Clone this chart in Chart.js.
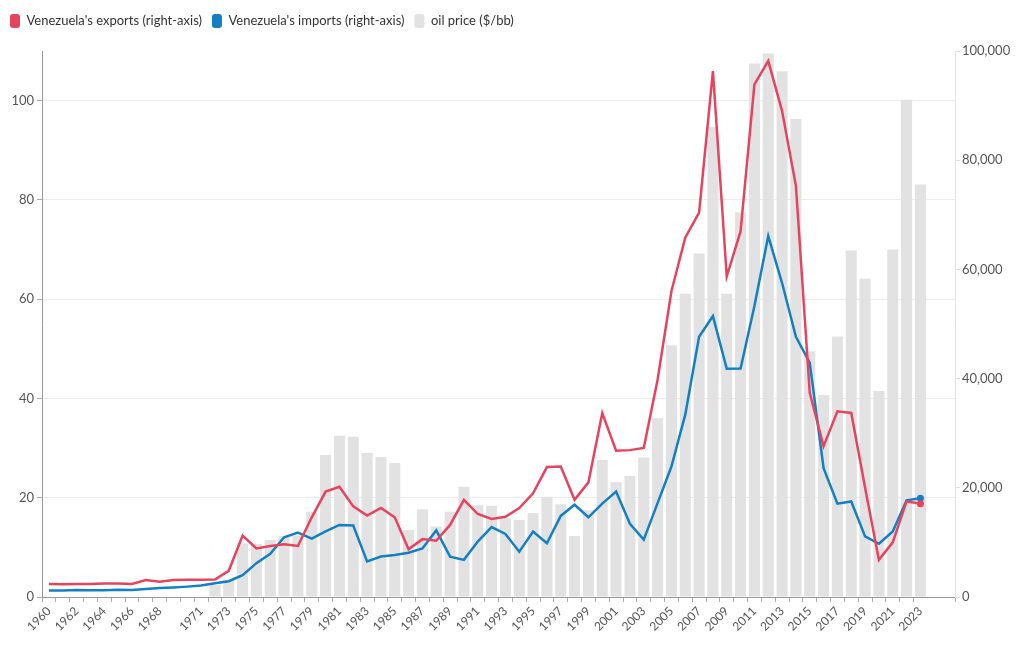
<!DOCTYPE html>
<html>
<head>
<meta charset="utf-8">
<script src="https://cdn.jsdelivr.net/npm/chart.js@4"></script>
<style>
  body { margin: 0; background: #fff; }
</style>
</head>
<body>
<canvas id="chart" width="1020" height="650"></canvas>
<script>
var years = [
  '1960', '1961', '1962', '1963', '1964', '1965', '1966', '1967', '1968', '1969',
  '1970', '1971', '1972', '1973', '1974', '1975', '1976', '1977', '1978', '1979',
  '1980', '1981', '1982', '1983', '1984', '1985', '1986', '1987', '1988', '1989',
  '1990', '1991', '1992', '1993', '1994', '1995', '1996', '1997', '1998', '1999',
  '2000', '2001', '2002', '2003', '2004', '2005', '2006', '2007', '2008', '2009',
  '2010', '2011', '2012', '2013', '2014', '2015', '2016', '2017', '2018', '2019',
  '2020', '2021', '2022', '2023'
];

// exports, US$ million (right axis)
var exportsValues = [
  2400, 2350, 2400, 2400, 2450, 2450, 2400, 3100, 2800, 3100,
  3150, 3150, 3200, 4800, 11250, 8900, 9350, 9650, 9350, 14600,
  19300, 20200, 16600, 14900, 16300, 14600, 8750, 10600, 10300, 13200,
  17800, 15200, 14300, 14700, 16300, 19000, 23800, 23900, 17800, 21000,
  33700, 26800, 26900, 27300, 39800, 56000, 65800, 70400, 96300, 58700,
  67000, 93900, 98200, 89000, 75300, 37400, 27600, 34000, 33700, 20000,
  6800, 10000, 17500, 17100
];

// imports, US$ million (right axis)
var importsValues = [
  1200, 1200, 1300, 1250, 1250, 1350, 1300, 1450, 1650, 1750,
  1900, 2100, 2500, 2900, 4000, 6200, 7900, 10950, 11800, 10700,
  12000, 13200, 13100, 6500, 7400, 7700, 8100, 8900, 12200, 7400,
  6800, 10150, 12800, 11550, 8300, 12000, 9850, 14850, 16900, 14600,
  17100, 19300, 13400, 10500, 17200, 23900, 33400, 47650, 51450, 41800,
  41850, 53300, 66100, 57500, 47650, 42900, 23600, 17100, 17500, 11100,
  9750, 12000, 17700, 18100
];

// oil price, $/bbl (left axis)
var oilPrice = [
  null, null, null, null, null, null, null, null, null, null,
  null, null, 2.4, 3.5, 10.8, 10.7, 11.5, 12.3, 12.4, 17.2,
  28.6, 32.5, 32.3, 29.0, 28.2, 27.0, 13.5, 17.7, 14.2, 17.2,
  22.2, 18.5, 18.4, 15.9, 15.5, 16.9, 20.2, 18.7, 12.3, 17.5,
  27.6, 23.1, 24.4, 28.1, 36.0, 50.7, 61.1, 69.2, 94.7, 61.1,
  77.5, 107.5, 109.5, 105.9, 96.3, 49.5, 40.7, 52.5, 69.8, 64.1,
  41.5, 70.0, 100.2, 83.1
];

// two empty slots keep the gap between 2023 and the right axis
var labels = years.concat(['', '']);
var lastIndex = years.length - 1;

var red = '#e8435e';
var blue = '#1280c3';
var grey = '#e2e2e2';

function lastDot(ctx) {
  return ctx.dataIndex === lastIndex ? 3.5 : 0;
}

function showYear(label) {
  var y = parseInt(label, 10);
  if (isNaN(y)) return false;
  if (y <= 1968) return y % 2 === 0;
  if (y >= 1971) return y % 2 === 1;
  return false;
}

// extra space under the legend
var legendMargin = {
  id: 'legendMargin',
  beforeInit: function(chart) {
    var fit = chart.legend.fit;
    chart.legend.fit = function() {
      fit.bind(chart.legend)();
      this.height += 13;
    };
  }
};

Chart.defaults.font.family = 'Lato, "Noto Sans", sans-serif';
Chart.defaults.font.size = 13;
Chart.defaults.color = '#555';

var ctx = document.getElementById('chart').getContext('2d');
var myChart = new Chart(ctx, {
  data: {
    labels: labels,
    datasets: [{
      type: 'line',
      label: "Venezuela's exports (right-axis)",
      data: exportsValues,
      yAxisID: 'y1',
      borderColor: red,
      backgroundColor: red,
      borderWidth: 2.5,
      tension: 0,
      pointRadius: lastDot,
      pointHoverRadius: lastDot,
      pointBorderWidth: 0
    }, {
      type: 'line',
      label: "Venezuela's imports (right-axis)",
      data: importsValues,
      yAxisID: 'y1',
      borderColor: blue,
      backgroundColor: blue,
      borderWidth: 2.5,
      tension: 0,
      pointRadius: lastDot,
      pointHoverRadius: lastDot,
      pointBorderWidth: 0
    }, {
      type: 'bar',
      label: 'oil price ($/bb)',
      data: oilPrice,
      yAxisID: 'y',
      backgroundColor: grey,
      borderWidth: 0,
      barPercentage: 0.8,
      categoryPercentage: 1
    }]
  },
  plugins: [legendMargin],
  options: {
    responsive: false,
    animation: false,
    layout: { padding: { top: 4, left: 0, right: 0, bottom: 0 } },
    plugins: {
      legend: {
        position: 'top',
        align: 'start',
        labels: {
          boxWidth: 10,
          boxHeight: 14,
          useBorderRadius: true,
          borderRadius: 3,
          padding: 10,
          color: '#333',
          font: { size: 13 },
          generateLabels: function(chart) {
            var items = Chart.defaults.plugins.legend.labels.generateLabels(chart);
            items.forEach(function(it) { it.lineWidth = 0; });
            return items;
          }
        }
      },
      tooltip: { enabled: false }
    },
    scales: {
      x: {
        type: 'category',
        offset: true,
        grid: {
          drawOnChartArea: false,
          tickLength: 5,
          tickColor: function(c) {
            return c.index > lastIndex ? 'rgba(0,0,0,0)' : '#aaa';
          }
        },
        border: { color: '#999' },
        ticks: {
          autoSkip: false,
          maxRotation: 45,
          minRotation: 45,
          padding: 2,
          font: { size: 12 },
          callback: function(value) {
            var l = this.getLabelForValue(value);
            return showYear(l) ? l : '';
          }
        },
        afterFit: function(scale) { scale.height = 53; }
      },
      y: {
        position: 'left',
        min: 0,
        max: 110,
        ticks: { stepSize: 20, padding: 3 },
        grid: { color: '#ececec', tickLength: 5, tickColor: '#aaa' },
        border: { color: '#999' },
        afterBuildTicks: function(scale) {
          scale.ticks = scale.ticks.filter(function(t) { return t.value <= 100; });
        },
        afterFit: function(scale) { scale.width = 42; }
      },
      y1: {
        position: 'right',
        min: 0,
        max: 100000,
        ticks: { stepSize: 20000, padding: 2 },
        grid: { drawOnChartArea: false, tickLength: 5, tickColor: '#ddd' },
        border: { color: '#e2e2e2' },
        afterFit: function(scale) { scale.width = 65; }
      }
    }
  }
});
</script>
</body>
</html>
